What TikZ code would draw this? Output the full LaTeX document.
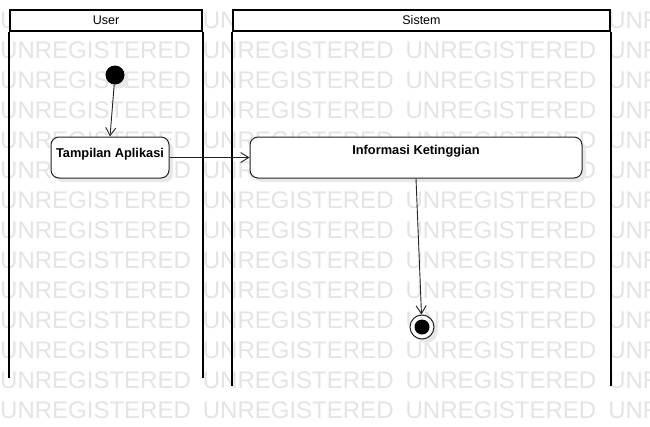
\documentclass[tikz,border=0pt]{standalone}
\usepackage{fontspec}
\setmainfont{Liberation Sans}
\usetikzlibrary{arrows.meta,shadows}
\definecolor{wmgray}{RGB}{228,228,228}
\definecolor{shadowgray}{RGB}{232,232,232}
\definecolor{edgegray}{RGB}{35,35,35}
\begin{document}
\begin{tikzpicture}[x=1pt,y=-1pt,
  wm/.style={anchor=base west, inner sep=0pt, text=wmgray, font=\fontsize{24}{28}\selectfont},
  lane/.style={line width=2pt, draw=black},
  lanehead/.style={lane, fill=white, inner sep=0pt, font=\fontsize{12.5}{15}\selectfont},
  actbox/.style={draw=edgegray, line width=1pt, fill=white, rounded corners=8pt, inner sep=0pt,
    drop shadow={shadow xshift=4pt, shadow yshift=-4pt, fill=shadowgray, opacity=1}},
  acttext/.style={anchor=base, inner sep=0pt, font=\fontsize{12.8}{15}\selectfont\bfseries},
  initnode/.style={circle, fill=black, minimum size=19pt, inner sep=0pt,
    drop shadow={shadow xshift=4pt, shadow yshift=-4pt, fill=shadowgray, opacity=1}},
  endouter/.style={circle, draw=edgegray, fill=white, line width=1pt, minimum size=24pt, inner sep=0pt,
    drop shadow={shadow xshift=4pt, shadow yshift=-4pt, fill=shadowgray, opacity=1}},
  endinner/.style={circle, fill=black, minimum size=15pt, inner sep=0pt},
  flow/.style={draw=edgegray, line width=0.9pt, -{Straight Barb[length=8pt,width=10pt]}}
]
\useasboundingbox (0,0) rectangle (650,426);
\fill[white] (0,0) rectangle (650,426);
% watermark
\begin{scope}
\clip (0,0) rectangle (650,426);
\foreach \r in {0,...,13}{
  \foreach \c in {0,...,3}{
    \node[wm] (wm-\r-\c) at ({202.7*\c},{28.5+30*\r}) {UNREGISTERED};
  }
}
\end{scope}
% lanes
\node[lanehead, minimum width=192pt, minimum height=21pt] (userhead) at (106,20.5) {User};
\draw[lane] (userhead.south west) -- ++(0,346);
\draw[lane] (userhead.south east) -- ++(0,346);
\node[lanehead, minimum width=377pt, minimum height=21pt] (sishead) at (421.5,20.5) {Sistem};
\draw[lane] (sishead.south west) -- ++(0,354);
\draw[lane] (sishead.south east) -- ++(0,354);
% nodes
\node[initnode] (init) at (115,75) {};
\node[actbox, minimum width=118pt, minimum height=41pt] (tamp) at (110,157.5) {};
\node[acttext] (tamptext) at ([yshift=-21pt]tamp.north) {Tampilan Aplikasi};
\node[actbox, minimum width=332pt, minimum height=41pt] (info) at (416,157.5) {};
\node[acttext] (infotext) at ([yshift=-18pt]info.north) {Informasi Ketinggian};
\node[endouter] (end) at (422,327) {};
\node[endinner] (endin) at (end) {};
% flows
\draw[flow] (init) -- (tamp.north);
\draw[flow] (tamp.east) -- (info.west);
\draw[flow] (info.south) -- (end);
\end{tikzpicture}
\end{document}
